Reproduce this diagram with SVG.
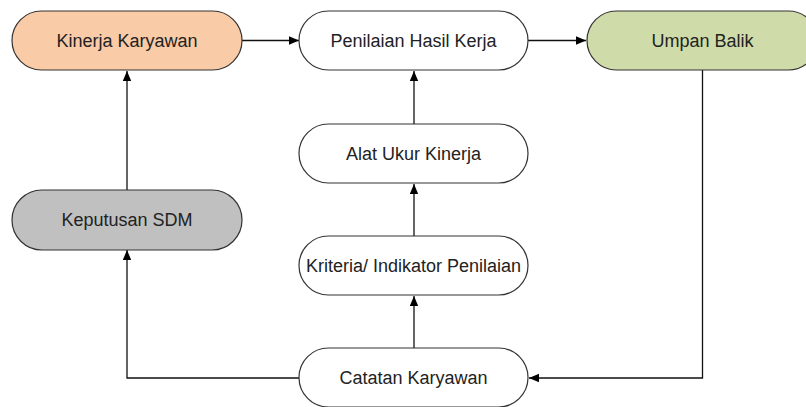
<svg xmlns="http://www.w3.org/2000/svg" width="806" height="407" viewBox="0 0 806 407">
<defs>
<style>
.n{stroke:#333;stroke-width:1.2}
.t{font-family:"Liberation Sans",Arial,sans-serif;font-size:18px;fill:#222;text-anchor:middle}
.c{fill:none;stroke:#111;stroke-width:1.3}
</style>
<marker id="a" viewBox="0 0 10 10" refX="10" refY="5" markerWidth="10" markerHeight="10" markerUnits="userSpaceOnUse" orient="auto">
<path d="M0,0.8 L10,5 L0,9.2 z" fill="#000"/>
</marker>
</defs>
<rect width="806" height="407" fill="#fff"/>
<g id="connectors">
<path class="c" d="M242,40.5 H299" marker-end="url(#a)"/>
<path class="c" d="M528,40.5 H586" marker-end="url(#a)"/>
<path class="c" d="M702.5,70 V378 H529" marker-end="url(#a)"/>
<path class="c" d="M299,378 H127 V250" marker-end="url(#a)"/>
<path class="c" d="M127,190 V71" marker-end="url(#a)"/>
<path class="c" d="M414,348 V296" marker-end="url(#a)"/>
<path class="c" d="M414,236 V184" marker-end="url(#a)"/>
<path class="c" d="M414,124 V71" marker-end="url(#a)"/>
</g>
<g id="kinerja">
<rect class="n" x="12" y="11" width="230" height="59" rx="29.5" fill="#F9CBA7"/>
<text class="t" x="127" y="46.8">Kinerja Karyawan</text>
</g>
<g id="penilaian">
<rect class="n" x="299" y="11" width="229" height="59" rx="29.5" fill="#fff"/>
<text class="t" x="413.5" y="46.8">Penilaian Hasil Kerja</text>
</g>
<g id="umpan">
<rect class="n" x="587" y="11" width="231" height="59" rx="29.5" fill="#CFDCA9"/>
<text class="t" x="702.5" y="46.8">Umpan Balik</text>
</g>
<g id="keputusan">
<rect class="n" x="12" y="190" width="230" height="60" rx="30" fill="#C0C0C0"/>
<text class="t" x="127" y="226.3">Keputusan SDM</text>
</g>
<g id="alat">
<rect class="n" x="299" y="124" width="229" height="59" rx="29.5" fill="#fff"/>
<text class="t" x="413.5" y="159.8">Alat Ukur Kinerja</text>
</g>
<g id="kriteria">
<rect class="n" x="299" y="236" width="229" height="59" rx="29.5" fill="#fff"/>
<text class="t" x="413.5" y="271.8">Kriteria/ Indikator Penilaian</text>
</g>
<g id="catatan">
<rect class="n" x="299" y="348" width="229" height="59" rx="29.5" fill="#fff"/>
<text class="t" x="413.5" y="383.8">Catatan Karyawan</text>
</g>
</svg>
